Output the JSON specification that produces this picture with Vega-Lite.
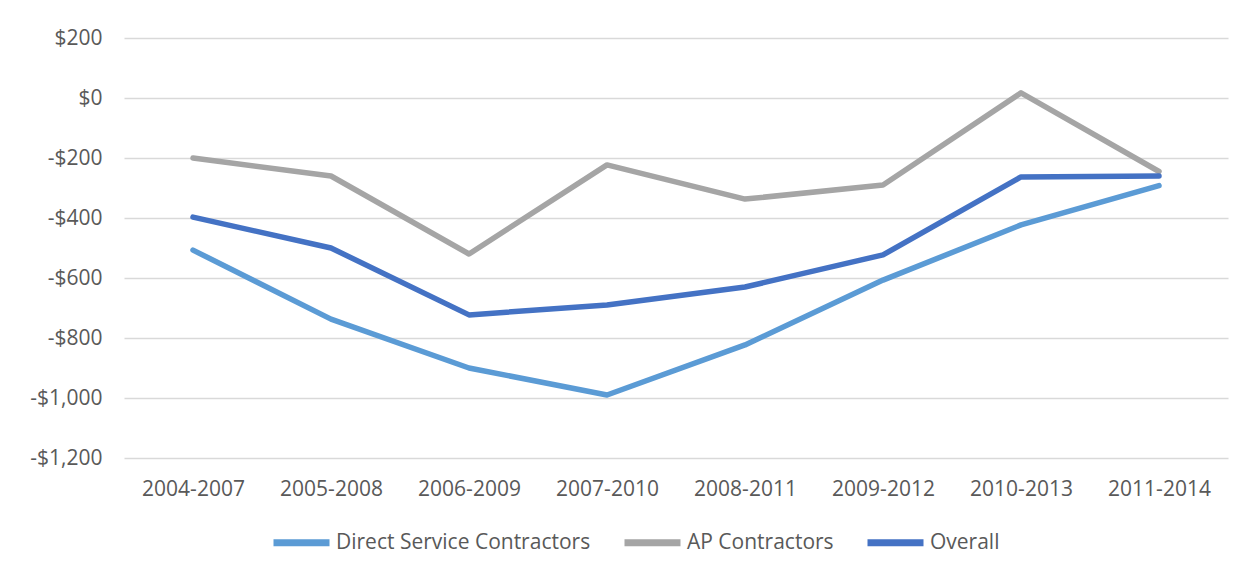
{
  "$schema": "https://vega.github.io/schema/vega-lite/v6.json",
  "width": 1104,
  "height": 420,
  "autosize": "none",
  "padding": {"left": 124, "top": 38, "right": 20, "bottom": 117},
  "background": "white",
  "config": {
    "view": {"stroke": null},
    "font": "Open Sans"
  },
  "data": {
    "values": [
      {"period": "2004-2007", "series": "Direct Service Contractors", "value": -507},
      {"period": "2005-2008", "series": "Direct Service Contractors", "value": -737},
      {"period": "2006-2009", "series": "Direct Service Contractors", "value": -900},
      {"period": "2007-2010", "series": "Direct Service Contractors", "value": -990},
      {"period": "2008-2011", "series": "Direct Service Contractors", "value": -823},
      {"period": "2009-2012", "series": "Direct Service Contractors", "value": -607},
      {"period": "2010-2013", "series": "Direct Service Contractors", "value": -423},
      {"period": "2011-2014", "series": "Direct Service Contractors", "value": -292},
      {"period": "2004-2007", "series": "AP Contractors", "value": -200},
      {"period": "2005-2008", "series": "AP Contractors", "value": -260},
      {"period": "2006-2009", "series": "AP Contractors", "value": -520},
      {"period": "2007-2010", "series": "AP Contractors", "value": -223},
      {"period": "2008-2011", "series": "AP Contractors", "value": -337},
      {"period": "2009-2012", "series": "AP Contractors", "value": -290},
      {"period": "2010-2013", "series": "AP Contractors", "value": 17},
      {"period": "2011-2014", "series": "AP Contractors", "value": -245},
      {"period": "2004-2007", "series": "Overall", "value": -397},
      {"period": "2005-2008", "series": "Overall", "value": -500},
      {"period": "2006-2009", "series": "Overall", "value": -723},
      {"period": "2007-2010", "series": "Overall", "value": -690},
      {"period": "2008-2011", "series": "Overall", "value": -630},
      {"period": "2009-2012", "series": "Overall", "value": -523},
      {"period": "2010-2013", "series": "Overall", "value": -263},
      {"period": "2011-2014", "series": "Overall", "value": -260}
    ]
  },
  "mark": {"type": "line", "strokeWidth": 5.5, "strokeCap": "round", "strokeJoin": "round"},
  "encoding": {
    "x": {
      "field": "period",
      "type": "ordinal",
      "scale": {"type": "point", "padding": 0.5},
      "axis": {
        "title": null,
        "labelAngle": 0,
        "labelFontSize": 21,
        "labelColor": "#595959",
        "labelPadding": 20,
        "ticks": false,
        "domain": false,
        "grid": false
      }
    },
    "y": {
      "field": "value",
      "type": "quantitative",
      "scale": {"domain": [-1200, 200], "nice": false, "zero": false},
      "axis": {
        "title": null,
        "values": [-1200, -1000, -800, -600, -400, -200, 0, 200],
        "labelExpr": "datum.value < 0 ? '-$' + format(-datum.value, ',') : '$' + format(datum.value, ',')",
        "labelFontSize": 21,
        "labelColor": "#595959",
        "labelPadding": 22,
        "ticks": false,
        "domain": false,
        "grid": true,
        "gridColor": "#D9D9D9",
        "gridWidth": 1.3
      }
    },
    "color": {
      "field": "series",
      "type": "nominal",
      "sort": ["Direct Service Contractors", "AP Contractors", "Overall"],
      "scale": {
        "domain": ["Direct Service Contractors", "AP Contractors", "Overall"],
        "range": ["#5B9BD5", "#A5A5A5", "#4472C4"]
      },
      "legend": {
        "title": null,
        "orient": "none",
        "direction": "horizontal",
        "legendX": 146,
        "legendY": 473,
        "symbolType": "stroke",
        "symbolStrokeWidth": 7,
        "symbolSize": 3136,
        "labelFontSize": 21,
        "labelColor": "#595959",
        "labelOffset": 3,
        "labelLimit": 0,
        "columnPadding": 19
      }
    }
  }
}
